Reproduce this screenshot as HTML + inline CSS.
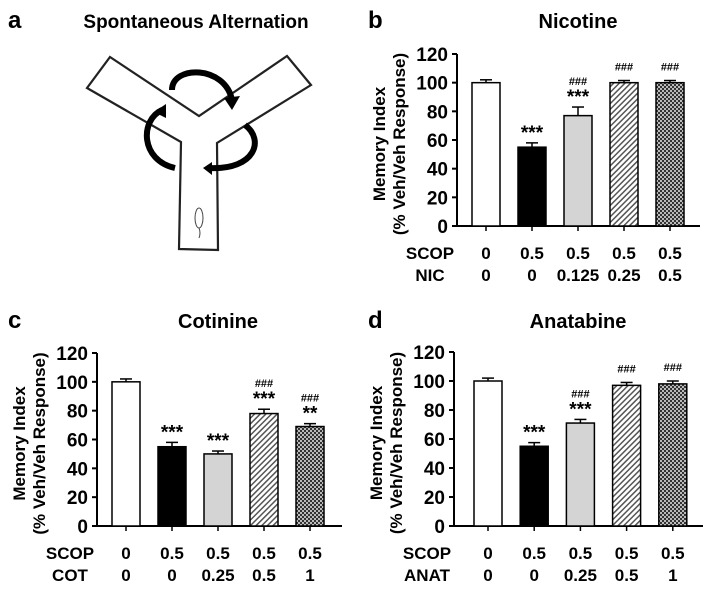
<!DOCTYPE html>
<html><head><meta charset="utf-8">
<style>
html,body{margin:0;padding:0;background:#fff;}
svg{display:block;font-family:"Liberation Sans",sans-serif;}
</style></head>
<body>
<svg id="fig" width="711" height="590" viewBox="0 0 711 590">
<defs>
<pattern id="hatch" width="4" height="4" patternUnits="userSpaceOnUse" patternTransform="rotate(45)">
<rect width="4" height="4" fill="#fff"/><rect width="1.5" height="4" fill="#555"/></pattern>
<pattern id="check" width="4" height="4" patternUnits="userSpaceOnUse">
<rect width="4" height="4" fill="#333"/><rect width="2" height="2" fill="#bbb"/><rect x="2" y="2" width="2" height="2" fill="#bbb"/></pattern>
</defs>
<g>
<text x="8" y="28" font-size="24" font-weight="bold">a</text>
<text x="196" y="28" font-size="19" font-weight="bold" text-anchor="middle">Spontaneous Alternation</text>
<polygon points="110,57 199,116 287,56 311,85 217,143 218,250 179,249 181,142 87,88" fill="#fff" stroke="#222" stroke-width="2.2"/>
<g fill="none" stroke="#000" stroke-width="6">
<path d="M172,90 C172,65 225,65 232,100"/>
<path d="M175,168 C140,160 140,120 162,110"/>
<path d="M245,125 C265,140 255,170 210,168"/>
</g>
<g fill="#000">
<polygon points="224,98 240,96 232,110"/>
<polygon points="154,112 166,104 166,118"/>
<polygon points="212,162 212,175 203,168"/>
</g>
<ellipse cx="199" cy="218" rx="4" ry="10" fill="none" stroke="#444" stroke-width="1"/>
<path d="M199,228 q2,5 0,10" fill="none" stroke="#444" stroke-width="1"/>
</g>
</svg>
<script>
const categories=["1","2","3","4","5"];
const nicValues=[100,55,77,100,100];
const nicErrors=[2,3,6,1.5,1.5];
const nicStars=["","***","***","",""];
const nicHash=["","","###","###","###"];
const nicScop=["0","0.5","0.5","0.5","0.5"];
const nicDose=["0","0","0.125","0.25","0.5"];
const cotValues=[100,55,50,78,69];
const cotErrors=[2,3,2,3,2];
const cotStars=["","***","***","***","**"];
const cotHash=["","","","###","###"];
const cotScop=["0","0.5","0.5","0.5","0.5"];
const cotDose=["0","0","0.25","0.5","1"];
const anatValues=[100,55,71,97,98];
const anatErrors=[2,2.5,2.5,2,2];
const anatStars=["","***","***","",""];
const anatHash=["","","###","###","###"];
const anatScop=["0","0.5","0.5","0.5","0.5"];
const anatDose=["0","0","0.25","0.5","1"];
const yTicks=[0,20,40,60,80,100,120];
const fills=["#fff","#000","#d4d4d4","url(#hatch)","url(#check)"];

const svg=document.getElementById('fig');
const NS="http://www.w3.org/2000/svg";
function mk(tag,attrs,parent){const e=document.createElementNS(NS,tag);for(const k in attrs)e.setAttribute(k,attrs[k]);(parent||svg).appendChild(e);return e;}
function txt(s,attrs,parent){const e=mk('text',attrs,parent);e.textContent=s;return e;}

function panel(o){
  const g=mk('g',{});
  
  
  const y0=o.y0,y120=o.y120;
  const ys=v=>y0-(v/120)*(y0-y120);
  const xs=i=>o.x0+i*o.step;
  const bw=28;
  const pl=txt(o.id,{x:o.lx,y:o.ly,'font-size':24,'font-weight':'bold'},g);
  
  
  const t=txt(o.title,{x:o.tx,y:o.ly,'font-size':20,'font-weight':'bold','text-anchor':'middle'},g);
  
  
  const yt=mk('text',{transform:`translate(${o.ax-52},${(y0+y120)/2+4}) rotate(-90)`,'font-size':17,'font-weight':'bold','text-anchor':'middle'},g);
  
  
  const t1=mk('tspan',{x:0,y:-20},yt);t1.textContent="Memory Index";
  const t2=mk('tspan',{x:0,y:0},yt);t2.textContent="(% Veh/Veh Response)";
  const ax=mk('line',{x1:o.ax,y1:y120,x2:o.ax,y2:y0,stroke:'#000','stroke-width':2},g);
  
  
  const bx=mk('line',{x1:o.ax,y1:y0,x2:o.axEnd,y2:y0,stroke:'#000','stroke-width':2},g);
  
  
  yTicks.forEach(v=>{
    mk('line',{x1:o.ax-5,y1:ys(v),x2:o.ax,y2:ys(v),stroke:'#000','stroke-width':2},g);
    const l=txt(String(v),{x:o.ax-9,y:ys(v)+7,'font-size':19,'font-weight':'bold','text-anchor':'end'},g);
    
    
  });
  o.values.forEach((v,i)=>{
    const cx=xs(i);
    const top=ys(v+o.errors[i]);
    mk('line',{x1:cx,y1:ys(v),x2:cx,y2:top,stroke:'#000','stroke-width':1.5},g);
    mk('line',{x1:cx-6,y1:top,x2:cx+6,y2:top,stroke:'#000','stroke-width':1.5},g);
    const r=mk('rect',{x:cx-bw/2,y:ys(v),width:bw,height:y0-ys(v),fill:fills[i],stroke:'#000','stroke-width':1.5},g);
    
    
    mk('line',{x1:cx,y1:y0,x2:cx,y2:y0+5,stroke:'#000','stroke-width':1.5},g);
    let ay=top-4;
    if(o.stars[i]){const s=txt(o.stars[i],{x:cx,y:ay,'font-size':19,'font-weight':'bold','text-anchor':'middle'},g);
      
      ay-=18;}
    else ay-=6;
    if(o.hash[i]){const h=txt(o.hash[i],{x:cx,y:ay,'font-size':11,'font-weight':'bold','text-anchor':'middle'},g);
      
      }
    const a=txt(o.scop[i],{x:cx,y:y0+33,'font-size':17,'font-weight':'bold','text-anchor':'middle'},g);
    
    
    const b=txt(o.dose[i],{x:cx,y:y0+55,'font-size':17,'font-weight':'bold','text-anchor':'middle'},g);
    
    
  });
  const r1=txt("SCOP",{x:o.ax-27,y:y0+33,'font-size':17,'font-weight':'bold','text-anchor':'middle'},g);
  
  
  const r2=txt(o.drug,{x:o.ax-27,y:y0+55,'font-size':17,'font-weight':'bold','text-anchor':'middle'},g);
  
  
}
panel({id:'b',title:'Nicotine',drug:'NIC',lx:368,ly:28,tx:578,ax:457,axEnd:700,x0:486,step:46,y0:226,y120:54,values:nicValues,errors:nicErrors,stars:nicStars,hash:nicHash,scop:nicScop,dose:nicDose});
panel({id:'c',title:'Cotinine',drug:'COT',lx:8,ly:328,tx:218,ax:97,axEnd:342,x0:126,step:46,y0:526,y120:353,values:cotValues,errors:cotErrors,stars:cotStars,hash:cotHash,scop:cotScop,dose:cotDose});
panel({id:'d',title:'Anatabine',drug:'ANAT',lx:368,ly:328,tx:578,ax:454,axEnd:703,x0:488,step:46.2,y0:526,y120:352,values:anatValues,errors:anatErrors,stars:anatStars,hash:anatHash,scop:anatScop,dose:anatDose});
</script>
</body></html>
